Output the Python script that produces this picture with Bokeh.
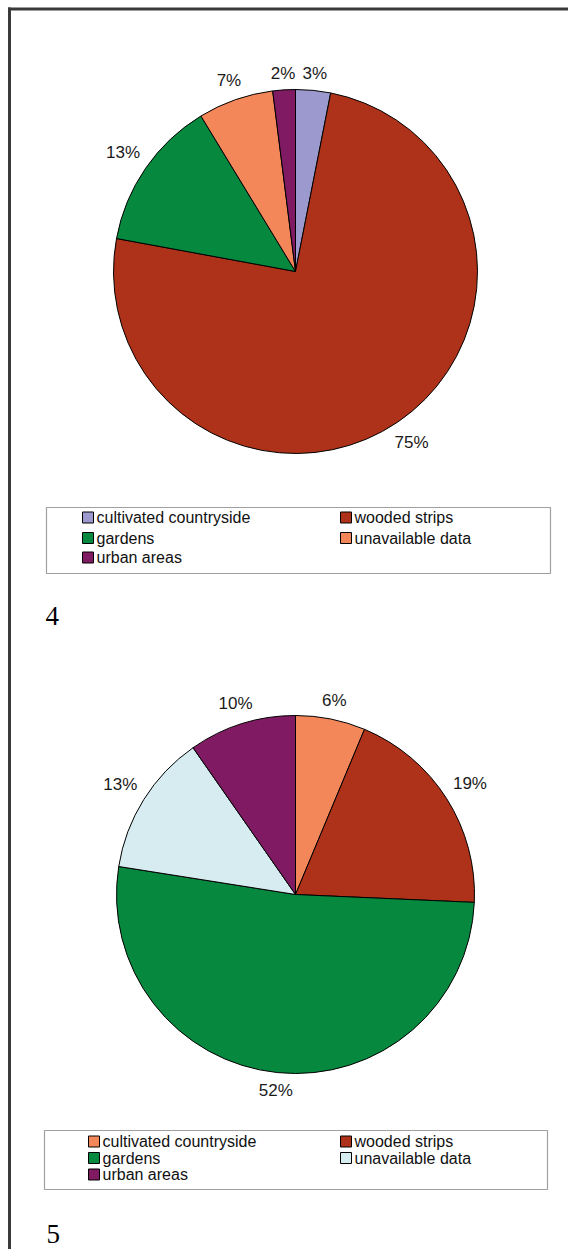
import numpy as np
from bokeh.plotting import figure
from bokeh.models import Range1d
from bokeh.embed import file_html
from bokeh.resources import INLINE
from bokeh.core.properties import value

# ---------------- data ----------------
categories = ["cultivated countryside", "wooded strips", "gardens",
              "unavailable data", "urban areas"]
values_4 = [3.1, 74.8, 13.4, 6.7, 2.0]
colors_4 = ["#9b99cd", "#ae3219", "#06883f", "#f3875a", "#801a62"]
values_5 = [6.3, 19.4, 51.8, 12.8, 9.7]
colors_5 = ["#f3875a", "#ae3219", "#06883f", "#d6ecf1", "#801a62"]
panel_labels = ["4", "5"]

W, H = 568, 1249
FONT = "Liberation Sans"


def X(px):
    return px


def Y(py):
    return H - py


p = figure(width=W, height=H, output_backend="svg", toolbar_location=None,
           x_axis_location=None, y_axis_location=None, min_border=0,
           x_range=Range1d(0, W), y_range=Range1d(0, H))
p.grid.visible = False
p.outline_line_color = None
p.background_fill_color = "white"
p.border_fill_color = "white"

# frame lines (top and left)
p.segment(x0=[7.5, 9], y0=[Y(8.5), Y(7)], x1=[W, 9], y1=[Y(8.5), 0],
          line_color="#3a3a3a", line_width=3)


def draw_pie(vals, cols, cx, cy, r):
    v = np.array(vals, dtype=float)
    cum = np.concatenate([[0], np.cumsum(v)]) / v.sum()
    start = np.pi / 2 - 2 * np.pi * cum[:-1]
    end = np.pi / 2 - 2 * np.pi * cum[1:]
    p.wedge(x=[X(cx)] * len(v), y=[Y(cy)] * len(v), radius=r,
            start_angle=list(start), end_angle=list(end), direction="clock",
            fill_color=cols, line_color="black", line_width=1)
    fs = 17
    mids = (start + end) / 2
    lx, ly, lt = [], [], []
    for m, val in zip(mids, v):
        txt = f"{int(round(val))}%"
        nd = len(txt) - 1
        hw = fs * (0.556 * nd + 0.889) / 2
        hh = fs * 0.716 / 2
        d = r + 10 + hw * abs(np.cos(m)) + hh * abs(np.sin(m))
        lx.append(X(cx) + d * np.cos(m))
        ly.append(Y(cy) + d * np.sin(m))
        lt.append(txt)
    p.text(x=lx, y=ly, text=lt, text_font=value(FONT),
           text_font_size=f"{fs}px", text_align="center",
           text_baseline="middle", text_color="#1a1a1a")


def draw_legend(cols, box, sq_x, rows_y, col2_x=340):
    x0, y0, x1, y1 = box
    p.quad(left=X(x0), right=X(x1), top=Y(y0), bottom=Y(y1),
           fill_color="white", line_color="#a0a0a0", line_width=1.2)
    xs, ys, cs, txt = [], [], [], []
    for i, (cat, c) in enumerate(zip(categories, cols)):
        row, col = divmod(i, 2)
        sx = sq_x if col == 0 else col2_x
        xs.append(X(sx))
        ys.append(Y(rows_y[row]))
        cs.append(c)
        txt.append(cat)
    p.rect(x=[x + 5.5 for x in xs], y=ys, width=11, height=11,
           fill_color=cs, line_color="black", line_width=1)
    p.text(x=[x + 14 for x in xs], y=ys, text=txt, text_font=value(FONT),
           text_font_size="16px", text_align="left", text_baseline="middle",
           text_color="#111111")


# chart 4
draw_pie(values_4, colors_4, 295, 271, 182)
draw_legend(colors_4, (46, 507, 550, 573), 82, [517, 537.5, 557])
# chart 5
draw_pie(values_5, colors_5, 295, 894, 179)
draw_legend(colors_5, (44, 1130, 547, 1189), 88, [1141, 1157.5, 1174])

# panel numbers
p.text(x=[X(45), X(46)], y=[Y(615), Y(1233)], text=panel_labels,
       text_font=value("Liberation Serif"), text_font_size="27px",
       text_align="left", text_baseline="alphabetic", text_color="black")

open("out.html", "w").write(file_html(p, INLINE))
